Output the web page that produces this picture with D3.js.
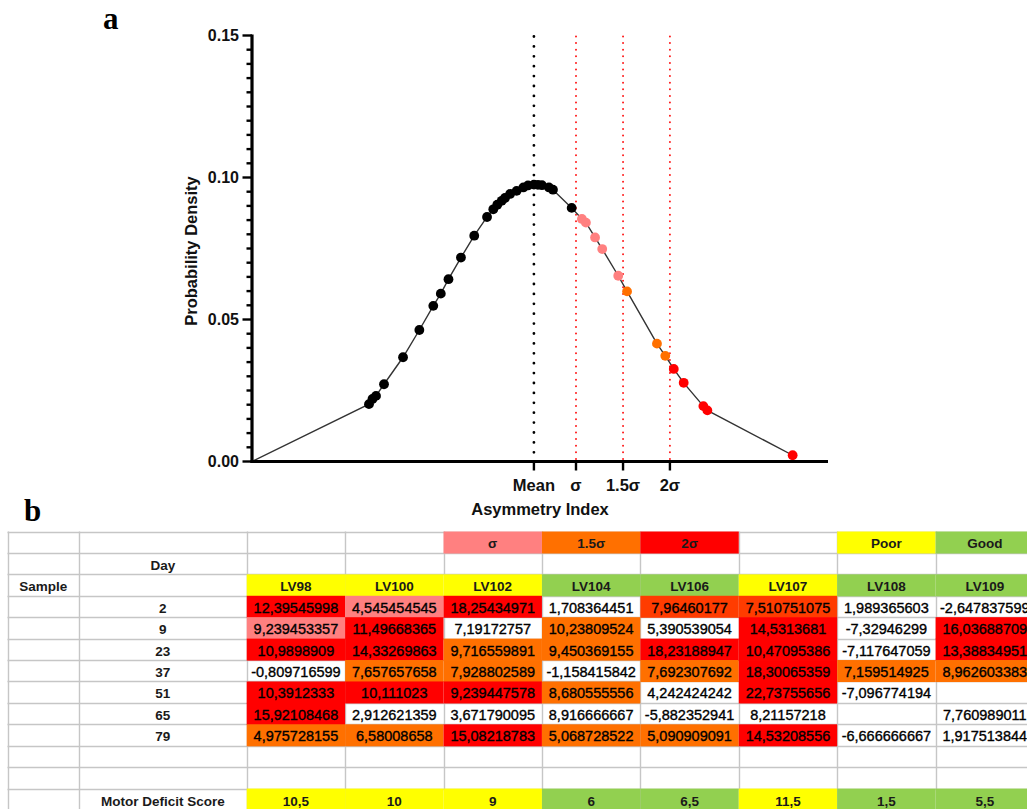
<!DOCTYPE html>
<html>
<head>
<meta charset="utf-8">
<title>Asymmetry index</title>
<style>
  body { margin: 0; background: #fff; }
  svg { display: block; }
  .lbl { font-family: "Liberation Sans", Arial, sans-serif; font-weight: bold; fill: #111; }
  .panel { font-family: "Liberation Serif", "Times New Roman", serif; font-weight: bold; font-size: 31px; fill: #000; }
  .cellTxt { font-family: "Liberation Sans", Arial, sans-serif; font-size: 14.5px; fill: #000; stroke: #000; stroke-width: 0.35px; }
  .headTxt { font-family: "Liberation Sans", Arial, sans-serif; font-size: 13.5px; font-weight: bold; fill: #1a1a1a; }
</style>
</head>
<body>
<script src="https://d3js.org/d3.v7.min.js"></script>
<script>

// ---- panel a data ----
var asymIndex = [-12, -4.69, -4.47, -4.25, -3.75, -2.56, -1.54, -0.67, -0.2, 0.28, 1.06, 1.89, 2.69, 3.08, 3.33,
                 3.61, 3.81, 4.13, 4.54, 4.96, 5.25, 5.62, 5.87, 6.12, 6.56, 6.81, 7.98,
                 8.62, 8.87, 9.44, 9.89, 10.89,
                 11.44, 13.31, 13.83,
                 14.36, 14.98, 16.21, 16.46, 21.79];
var density = [0, 0.0202, 0.022, 0.0231, 0.0272, 0.0367, 0.0463, 0.0548, 0.0591, 0.0642, 0.0718, 0.0795, 0.0861, 0.0888, 0.0904,
               0.0918, 0.0928, 0.0942, 0.0953, 0.0965, 0.0972, 0.0975, 0.0974, 0.0973, 0.0965, 0.0957, 0.0893,
               0.0854, 0.0841, 0.0789, 0.0748, 0.0654,
               0.0599, 0.0415, 0.0372,
               0.0326, 0.0277, 0.0195, 0.018, 0.0022];
var band = ["start"].concat(d3.range(26).map(function() { return "in"; }),
            ["σ", "σ", "σ", "σ", "σ"], ["1.5σ", "1.5σ", "1.5σ"], ["2σ", "2σ", "2σ", "2σ", "2σ"]);

var refLabels = ["Mean", "σ", "1.5σ", "2σ"];
var refValues = [5.62, 8.25, 11.19, 14.12];
var yTicks = [0, 0.05, 0.10, 0.15];

// ---- panel b data ----
var samples = ["LV98", "LV100", "LV102", "LV104", "LV106", "LV107", "LV108", "LV109"];
var groups = ["Poor", "Poor", "Poor", "Good", "Good", "Poor", "Good", "Good"];
var legendRow = ["", "", "σ", "1.5σ", "2σ", "", "Poor", "Good"];
var days = [2, 9, 23, 37, 51, 65, 79];
var values = [
  [12.39545998, 9.239453357, 10.9898909, -0.809716599, 10.3912333, 15.92108468, 4.975728155],
  [4.545454545, 11.49668365, 14.33269863, 7.657657658, 10.111023, 2.912621359, 6.58008658],
  [18.25434971, 7.19172757, 9.716559891, 7.928802589, 9.239447578, 3.671790095, 15.08218783],
  [1.708364451, 10.23809524, 9.450369155, -1.158415842, 8.680555556, 8.916666667, 5.068728522],
  [7.96460177, 5.390539054, 18.23188947, 7.692307692, 4.242424242, -5.882352941, 5.090909091],
  [7.510751075, 14.5313681, 10.47095386, 18.30065359, 22.73755656, 8.21157218, 14.53208556],
  [1.989365603, -7.32946299, -7.117647059, 7.159514925, -7.096774194, null, -6.666666667],
  [-2.647837599, 16.03688709, 13.38834951, 8.962603383, null, 7.760989011, 1.917513844]
];
var levels = [
  ["2σ", "σ", "2σ", "", "2σ", "2σ", "1.5σ"],
  ["σ", "2σ", "2σ", "1.5σ", "2σ", "", "1.5σ"],
  ["2σ", "", "1.5σ", "1.5σ", "2σ", "", "2σ"],
  ["", "1.5σ", "1.5σ", "", "1.5σ", "", "1.5σ"],
  ["2σ*", "", "2σ", "1.5σ", "", "", "1.5σ"],
  ["2σ*", "2σ", "2σ", "2σ", "2σ", "", "2σ"],
  ["", "", "", "1.5σ", "", "", ""],
  ["", "2σ", "2σ", "1.5σ", "", "", ""]
];
var motorScore = [10.5, 10, 9, 6, 6.5, 11.5, 1.5, 5.5];

var fillOf = {
  "σ": "#ff8080", "1.5σ": "#ff7000", "2σ": "#ff0000", "2σ*": "#ff3c00",
  "Poor": "#ffff00", "Good": "#92d050", "": null, "in": "#000", "start": "#000"
};

var W = 1027, H = 809;
var svg = d3.select("body").append("svg").attr("width", W).attr("height", H);
svg.append("rect").attr("width", W).attr("height", H).attr("fill", "#fff");

// ================= panel a =================
var x = d3.scaleLinear().domain([-12, 24]).range([252, 828]);
var y = d3.scaleLinear().domain([0, 0.15]).range([461.5, 35.5]);

svg.append("text").attr("class", "panel").attr("x", 103).attr("y", 29).text("a");

// reference lines
svg.selectAll(".ref").data(refValues).enter().append("line")
  .attr("x1", function(d) { return x(d); }).attr("x2", function(d) { return x(d); })
  .attr("y1", y(0.15) + 1).attr("y2", y(0) - 2)
  .attr("stroke", function(d, i) { return i === 0 ? "#000" : "#ff1a1a"; })
  .attr("stroke-width", function(d, i) { return i === 0 ? 2.8 : 2; })
  .attr("stroke-linecap", "round")
  .attr("stroke-dasharray", function(d, i) { return i === 0 ? "0,9.9" : "0,6.6"; });

// curve
var pts = asymIndex.map(function(v, i) { return {v: v, d: density[i], b: band[i]}; });
svg.append("path").datum(pts)
  .attr("fill", "none").attr("stroke", "#333").attr("stroke-width", 1.4)
  .attr("d", d3.line().x(function(p) { return x(p.v); }).y(function(p) { return y(p.d); }));

svg.selectAll(".pt").data(pts.filter(function(p) { return p.b !== "start"; })).enter().append("circle")
  .attr("cx", function(p) { return x(p.v); }).attr("cy", function(p) { return y(p.d); })
  .attr("r", 4.9)
  .attr("fill", function(p) { return fillOf[p.b]; });

// y axis
var yAxis = svg.append("g").attr("transform", "translate(" + x(-12) + ",0)");
yAxis.append("line").attr("y1", y(0.15) - 1).attr("y2", y(0) + 1.5).attr("stroke", "#000").attr("stroke-width", 3.2);
yAxis.selectAll(".minor").data(d3.range(0, 0.1501, 0.005)).enter().append("line")
  .attr("x1", function(d) { return yTicks.some(function(t) { return Math.abs(t - d) < 1e-6; }) ? -9.5 : -5.5; })
  .attr("x2", 0)
  .attr("y1", function(d) { return y(d); }).attr("y2", function(d) { return y(d); })
  .attr("stroke", "#000").attr("stroke-width", 2.4);
yAxis.selectAll(".ylab").data(yTicks).enter().append("text")
  .attr("class", "lbl").attr("font-size", 16)
  .attr("x", -13).attr("y", function(d) { return y(d) + 5.5; })
  .attr("text-anchor", "end")
  .text(function(d) { return d3.format(".2f")(d); });

svg.append("text").attr("class", "lbl").attr("font-size", 16.5)
  .attr("transform", "translate(197,251) rotate(-90)")
  .attr("text-anchor", "middle").text("Probability Density");

// x axis
var xAxis = svg.append("g").attr("transform", "translate(0," + y(0) + ")");
xAxis.append("line").attr("x1", x(-12) - 1.5).attr("x2", x(24)).attr("stroke", "#000").attr("stroke-width", 3.2);
xAxis.selectAll(".xt").data(refValues).enter().append("line")
  .attr("x1", function(d) { return x(d); }).attr("x2", function(d) { return x(d); })
  .attr("y1", 0).attr("y2", 9).attr("stroke", "#000").attr("stroke-width", 2.4);
xAxis.selectAll(".xl").data(refValues).enter().append("text")
  .attr("class", "lbl").attr("font-size", 16.5)
  .attr("x", function(d) { return x(d); }).attr("y", 29)
  .attr("text-anchor", "middle")
  .text(function(d, i) { return refLabels[i]; });

svg.append("text").attr("class", "lbl").attr("font-size", 16.5)
  .attr("x", (x(-12) + x(24)) / 2).attr("y", 515)
  .attr("text-anchor", "middle").text("Asymmetry Index");

// ================= panel b =================
svg.append("text").attr("class", "panel").attr("x", 24).attr("y", 521).text("b");

var row = d3.scaleBand().domain(d3.range(13)).range([531.5, 810]);
var col = d3.scaleBand().domain(samples).range([246.7, 1034]);
var firstCols = [7.5, 79, 246.7];

var lineColor = "#c6c6c6";
var grid = svg.append("g");
// horizontal lines
grid.selectAll(".h").data(d3.range(14)).enter().append("line")
  .attr("x1", firstCols[0]).attr("x2", W)
  .attr("y1", function(i) { return Math.round(531.5 + i * row.step()) + 0.5; })
  .attr("y2", function(i) { return Math.round(531.5 + i * row.step()) + 0.5; })
  .attr("stroke", lineColor).attr("stroke-width", 1.4);
// vertical lines
var vEdges = firstCols.concat(samples.map(function(s) { return col(s) + col.bandwidth(); }));
grid.selectAll(".v").data(vEdges).enter().append("line")
  .attr("x1", function(d) { return Math.round(d) + 0.5; }).attr("x2", function(d) { return Math.round(d) + 0.5; })
  .attr("y1", 531.5).attr("y2", H)
  .attr("stroke", lineColor).attr("stroke-width", 1.4);

function cell(sx, w, r, fill, txt, cls) {
  var y0 = row(r);
  if (fill) {
    svg.append("rect").attr("x", sx).attr("y", y0).attr("width", w).attr("height", row.bandwidth() + 0.6)
      .attr("fill", fill);
  }
  if (txt !== "" && txt != null) {
    svg.append("text").attr("class", cls).attr("x", sx + w / 2).attr("y", y0 + row.bandwidth() - 4.5)
      .attr("text-anchor", "middle").text(txt);
  }
}
function fmt(v) { return v == null ? "" : String(v).replace(".", ","); }

// row labels
cell(firstCols[1], firstCols[2] - firstCols[1], 1, null, "Day", "headTxt");
cell(firstCols[0], firstCols[1] - firstCols[0], 2, null, "Sample", "headTxt");
days.forEach(function(dy, j) { cell(firstCols[1], firstCols[2] - firstCols[1], 3 + j, null, dy, "headTxt"); });
cell(firstCols[1], firstCols[2] - firstCols[1], 12, null, "Motor Deficit Score", "headTxt");

samples.forEach(function(s, k) {
  var sx = col(s), w = col.bandwidth();
  cell(sx, w, 0, fillOf[legendRow[k]], legendRow[k], "headTxt");
  cell(sx, w, 2, fillOf[groups[k]], s, "headTxt");
  values[k].forEach(function(v, j) { cell(sx, w, 3 + j, fillOf[levels[k][j]], fmt(v), "cellTxt"); });
  cell(sx, w, 12, fillOf[groups[k]], fmt(motorScore[k]), "headTxt");
});

</script>
</body>
</html>
